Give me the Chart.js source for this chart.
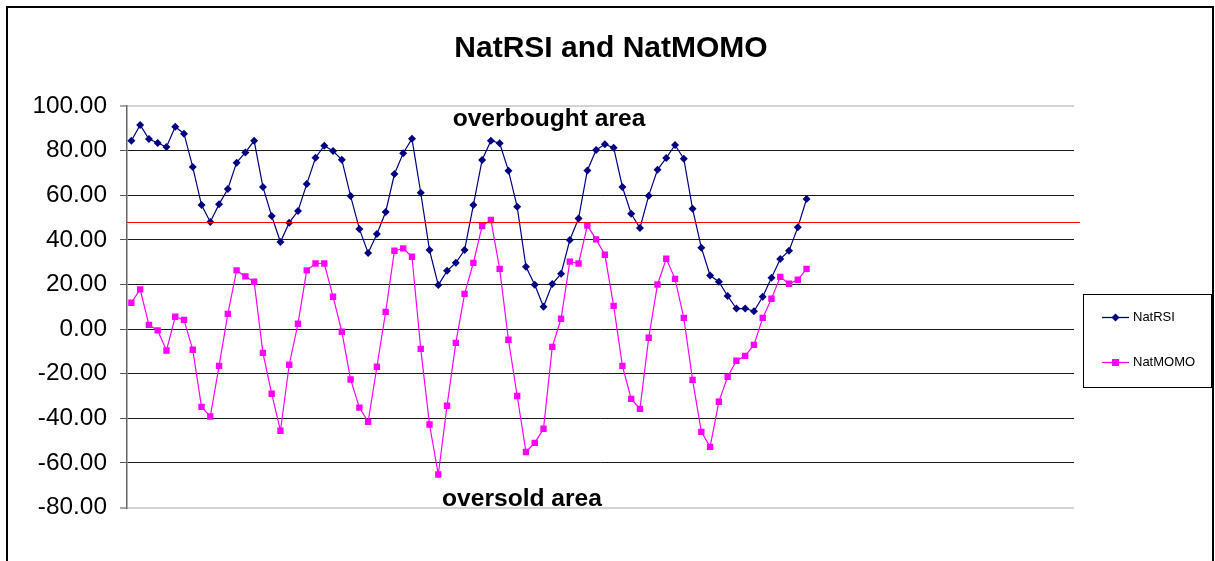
<!DOCTYPE html>
<html>
<head>
<meta charset="utf-8">
<script src="https://cdn.jsdelivr.net/npm/chart.js@4.4.1/dist/chart.umd.min.js"></script>
<style>
  html, body { margin: 0; padding: 0; background: #fff; }
  #wrap { width: 1215px; height: 561px; position: relative; }
</style>
</head>
<body>
<div id="wrap"><canvas id="myChart" width="1215" height="561"></canvas></div>
<script>
// chart data
const periodCount = 108; // x slots on the category axis (only 78 are filled)
const natRSI = [
    84.4, 91.5, 85.2, 83.4, 81.6, 90.7, 87.6, 72.6, 55.6, 48.0,
    56.0, 62.8, 74.6, 79.2, 84.4, 63.7, 50.7, 39.0, 47.7, 52.9,
    65.0, 76.8, 82.2, 79.8, 75.9, 59.6, 44.9, 34.1, 42.6, 52.5,
    69.5, 78.8, 85.3, 61.1, 35.4, 19.7, 26.1, 29.7, 35.4, 55.6,
    75.8, 84.4, 83.3, 71.0, 54.8, 27.9, 19.9, 10.0, 20.2, 24.8,
    39.9, 49.6, 71.1, 80.3, 82.8, 81.3, 63.7, 51.7, 45.3, 59.8,
    71.4, 76.7, 82.5, 76.4, 53.9, 36.5, 24.0, 21.2, 14.8, 9.2,
    9.2, 8.0, 14.5, 23.0, 31.4, 35.1, 45.6, 58.3
];
const natMOMO = [
    11.8, 17.8, 1.9, -0.6, -9.6, 5.5, 4.1, -9.3, -34.9, -39.2,
    -16.5, 6.8, 26.3, 23.6, 21.2, -10.7, -29.0, -45.6, -16.0, 2.4,
    26.3, 29.4, 29.4, 14.5, -1.2, -22.6, -35.2, -41.6, -16.9, 7.7,
    35.1, 36.2, 32.4, -8.9, -42.8, -65.2, -34.4, -6.2, 15.8, 29.7,
    46.2, 48.9, 27.0, -4.8, -30.0, -55.1, -51.0, -44.7, -8.0, 4.6,
    30.2, 29.4, 46.4, 40.2, 33.3, 10.4, -16.5, -31.3, -35.8, -3.9,
    20.0, 31.5, 22.5, 5.0, -22.8, -46.1, -52.8, -32.6, -21.4, -14.2,
    -12.0, -7.1, 5.0, 13.6, 23.4, 20.3, 22.1, 27.0
];
const yMin = -80;
const yMax = 100;
const yStep = 20;
const midLevel = 47.8;   // red reference line
const titleText = 'NatRSI and NatMOMO';
const topNote = 'overbought area';
const bottomNote = 'oversold area';

const labels = [];
for (let i = 1; i <= periodCount; i++) labels.push(i);

const FONT = "'Liberation Sans', Arial, sans-serif";

// frame, title, notes, red line and the boxed legend
const decorPlugin = {
    id: 'decor',
    beforeDraw(chart) {
        const c = chart.ctx;
        c.save();
        c.fillStyle = '#fff';
        c.fillRect(0, 0, chart.width, chart.height);
        c.strokeStyle = '#000';
        c.lineWidth = 2;
        c.strokeRect(7, 7, 1206, 600);
        c.restore();
    },
    afterDatasetsDraw(chart) {
        const c = chart.ctx;
        const area = chart.chartArea;
        const y = Math.round(chart.scales.y.getPixelForValue(midLevel)) + 0.5;
        c.save();
        c.strokeStyle = '#ff0000';
        c.lineWidth = 1;
        c.beginPath();
        c.moveTo(area.left, y);
        c.lineTo(area.right + 6, y);
        c.stroke();

        c.fillStyle = '#000';
        c.textAlign = 'center';
        c.textBaseline = 'alphabetic';
        c.font = 'bold 30px ' + FONT;
        c.fillText(titleText, 611, 57);
        c.font = 'bold 24.6px ' + FONT;
        c.fillText(topNote, 549, 126);
        c.fillText(bottomNote, 522, 506);

        // legend box
        c.lineWidth = 1;
        c.strokeStyle = '#000';
        c.strokeRect(1083.5, 294.5, 128, 93);
        c.font = '13px ' + FONT;
        c.textAlign = 'left';
        c.textBaseline = 'middle';
        const rows = [317, 362];
        chart.data.datasets.forEach((ds, i) => {
            const ly = rows[i] + 0.5;
            c.strokeStyle = ds.borderColor;
            c.lineWidth = 1.3;
            c.beginPath();
            c.moveTo(1102, ly);
            c.lineTo(1129, ly);
            c.stroke();
            c.fillStyle = ds.pointBackgroundColor;
            c.beginPath();
            if (ds.pointStyle === 'rectRot') {
                c.moveTo(1115.5, ly - 4);
                c.lineTo(1119.5, ly);
                c.lineTo(1115.5, ly + 4);
                c.lineTo(1111.5, ly);
                c.closePath();
            } else {
                c.rect(1112, ly - 3.5, 7, 7);
            }
            c.fill();
            c.fillStyle = '#000';
            c.fillText(ds.label, 1133, ly);
        });
        c.restore();
    }
};

const ctx = document.getElementById('myChart').getContext('2d');
const myChart = new Chart(ctx, {
    type: 'line',
    data: {
        labels: labels,
        datasets: [{
            label: 'NatRSI',
            data: natRSI,
            borderColor: '#000080',
            backgroundColor: '#000080',
            pointBackgroundColor: '#000080',
            pointBorderColor: '#000080',
            borderWidth: 1.2,
            pointStyle: 'rectRot',
            pointRadius: 4,
            pointBorderWidth: 0,
            tension: 0
        }, {
            label: 'NatMOMO',
            data: natMOMO,
            borderColor: '#ff00ff',
            backgroundColor: '#ff00ff',
            pointBackgroundColor: '#ff00ff',
            pointBorderColor: '#ff00ff',
            borderWidth: 1.2,
            pointStyle: 'rect',
            pointRadius: 4.5,
            pointBorderWidth: 0,
            tension: 0
        }]
    },
    options: {
        responsive: false,
        animation: false,
        layout: { padding: { top: 106, right: 141, bottom: 53.5, left: 0 } },
        plugins: { legend: { display: false }, title: { display: false }, tooltip: { enabled: false } },
        scales: {
            x: { display: false, offset: true },
            y: {
                min: yMin,
                max: yMax,
                afterFit(scale) { scale.width = 127; },
                ticks: {
                    stepSize: yStep,
                    padding: 13,
                    color: '#000',
                    font: { family: FONT, size: 24.4 },
                    callback: v => v.toFixed(2)
                },
                grid: {
                    color: c => (c.tick && (c.tick.value === yMax || c.tick.value === yMin)) ? '#d4d4d4' : '#1a1a1a',
                    lineWidth: c => (c.tick && (c.tick.value === yMax || c.tick.value === yMin)) ? 2 : 1,
                    tickColor: '#555',
                    tickLength: 7,
                    tickWidth: 1
                },
                border: { display: true, color: '#666', width: 1.5 }
            }
        }
    },
    plugins: [decorPlugin]
});
</script>
</body>
</html>
